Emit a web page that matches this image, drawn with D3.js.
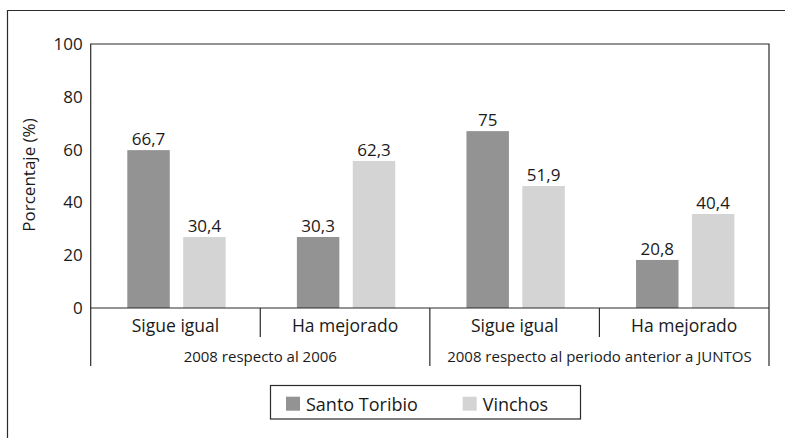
<!DOCTYPE html>
<html><head><meta charset="utf-8">
<script src="https://cdn.jsdelivr.net/npm/d3@7"></script>
<style>body{margin:0;background:#fff}svg{display:block}text{font-family:"Open Sans",sans-serif;fill:#1a1a1a}</style>
</head><body><svg id="c" width="785" height="438"></svg>
<script>
const categories = ["Sigue igual","Ha mejorado","Sigue igual","Ha mejorado"];
const groups = ["2008 respecto al 2006","2008 respecto al periodo anterior a JUNTOS"];
const seriesNames = ["Santo Toribio","Vinchos"];
const santoToribio = [59.8, 26.9, 67.0, 18.2];
const vinchos = [26.9, 55.7, 46.2, 35.6];
const santoToribioLabels = ["66,7","30,3","75","20,8"];
const vinchosLabels = ["30,4","62,3","51,9","40,4"];
const yTicks = [0,20,40,60,80,100];
const colors = ["#939393","#d4d4d4"];

const svg = d3.select("#c");
const L = 90.7, R = 769, T = 44, B = 308, lineCol = "#2a2a2a";
const x = d3.scaleBand().domain(d3.range(categories.length)).range([L,R]).paddingInner(0).paddingOuter(0);
const bw = x.bandwidth();
const inner = d3.scaleBand().domain([0,1]).range([bw*0.21+1, bw*0.79+1]).paddingInner(0.24).paddingOuter(0);
const y = d3.scaleLinear().domain([0,100]).range([B,T]);

// outer frame (top + left)
svg.append("path").attr("d","M7.5,438 V10.5 H785").attr("fill","none").attr("stroke",lineCol).attr("stroke-width",1.2);

// bars
const series = [santoToribio, vinchos];
const labels = [santoToribioLabels, vinchosLabels];
series.forEach((vals,s)=>{
  svg.append("g").selectAll("rect").data(vals).join("rect")
    .attr("x",(d,i)=>x(i)+inner(s)).attr("width",inner.bandwidth())
    .attr("y",d=>y(d)).attr("height",d=>y(0)-y(d)).attr("fill",colors[s]);
  svg.append("g").selectAll("text").data(vals).join("text")
    .attr("x",(d,i)=>x(i)+inner(s)+inner.bandwidth()/2).attr("y",d=>y(d)-5)
    .attr("text-anchor","middle").attr("font-size",17).text((d,i)=>labels[s][i]);
});

// plot frame
const g = svg.append("g").attr("fill","none").attr("stroke",lineCol).attr("stroke-width",1.2);
g.append("path").attr("d",`M${L},366 V${T} H${R} V366`);
g.append("path").attr("d",`M${L},${B} H${R}`);
// category dividers
[1,2,3].forEach(i=>{
  const xx = x(i);
  g.append("path").attr("d",`M${xx},${B} V${i===2?366:337}`);
});

// y axis
const ya = svg.append("g").attr("transform",`translate(${L},0)`)
  .call(d3.axisLeft(y).tickValues(yTicks).tickSize(0).tickPadding(8));
ya.select(".domain").remove();
ya.selectAll("text").attr("font-size",17).attr("font-family","Open Sans").attr("fill","#1a1a1a");

svg.append("text").attr("transform","translate(35,175) rotate(-90)").attr("text-anchor","middle")
  .attr("font-size",17).text("Porcentaje (%)");

// category labels
svg.append("g").selectAll("text").data(categories).join("text")
  .attr("x",(d,i)=>x(i)+bw/2).attr("y",332).attr("text-anchor","middle").attr("font-size",17.5).text(d=>d);
// group labels
svg.append("g").selectAll("text").data(groups).join("text")
  .attr("x",(d,i)=>(x(i*2)+x(i*2+1)+bw)/2).attr("y",362).attr("text-anchor","middle").attr("font-size",15).text(d=>d);

// legend
const lg = svg.append("g");
lg.append("rect").attr("x",270.5).attr("y",385.5).attr("width",310).attr("height",33.5).attr("fill","#fff").attr("stroke",lineCol).attr("stroke-width",1.2);
const lx = [286, 462.7];
seriesNames.forEach((n,i)=>{
  lg.append("rect").attr("x",lx[i]).attr("y",396.7).attr("width",14).attr("height",14).attr("fill",colors[i]);
  lg.append("text").attr("x",lx[i]+20).attr("y",410.5).attr("font-size",18).text(n);
});
</script></body></html>
